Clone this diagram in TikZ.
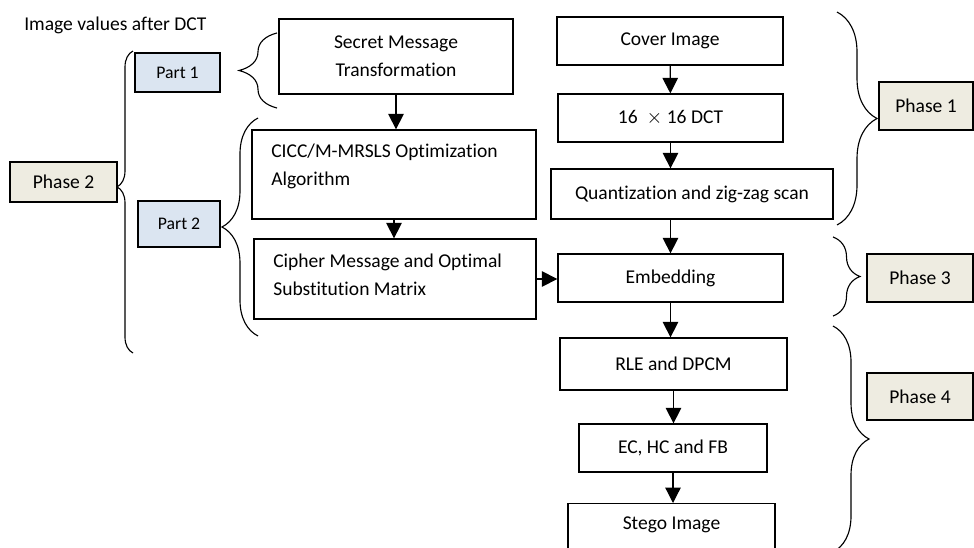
\documentclass[tikz,border=0pt]{standalone}
\usepackage{fontspec}
\setmainfont[Ligatures=NoCommon]{Carlito}
\usetikzlibrary{arrows.meta,decorations.pathreplacing}

\definecolor{phasefill}{RGB}{238,236,225}
\definecolor{partfill}{RGB}{219,229,241}

\tikzset{
  txt/.style={inner sep=0pt, font=\fontsize{13.9}{20}\selectfont},
  blk/.style={txt, draw, line width=0.9pt, align=center},
  phase/.style={blk, fill=phasefill},
  part/.style={blk, fill=partfill, font=\fontsize{12.6}{16}\selectfont},
  arr/.style={line width=0.9pt, -{Triangle[length=11pt,width=11pt]}},
  brc/.style={decorate, line width=0.8pt, decoration={brace, amplitude=#1}},
}

\begin{document}
\begin{tikzpicture}[x=0.025cm, y=-0.025cm]
\useasboundingbox (0,0) rectangle (974,547);

% left part
\node[txt, anchor=west] (caption) at (24,25) {Image values after DCT};
\node[phase, minimum width=2.675cm, minimum height=1cm] (ph2) at (63.5,182) {Phase 2};
\node[part, minimum width=2.125cm, minimum height=0.975cm] (pt1) at (177.5,72.5) {Part 1};
\node[part, minimum width=2.05cm, minimum height=1.15cm] (pt2) at (179,224) {Part 2};

\node[blk, minimum width=5.85cm, minimum height=1.875cm] (secret) at (396,56.5) {Secret Message\\Transformation};
\node[blk, minimum width=7.1cm, minimum height=2.225cm] (cicc) at (394,174.5) {};
\node[txt, anchor=west, align=left] (cicctxt) at (271,166) {CICC/M-MRSLS Optimization\\Algorithm};
\node[blk, minimum width=7.05cm, minimum height=2cm] (cipher) at (395,279) {};
\node[txt, anchor=west, align=left] (ciphertxt) at (273,275) {Cipher Message and Optimal\\Substitution Matrix};

% right part
\node[blk, minimum width=5.65cm, minimum height=1.2cm] (cover) at (670,41) {Cover Image};
\node[blk, minimum width=5.625cm, minimum height=1.2cm] (dct) at (670.5,118) {\rmfamily\fontsize{13.9}{16}\selectfont 16\ \ $\times$ 16 DCT};
\node[blk, minimum width=7.05cm, minimum height=1.25cm] (quant) at (692,194) {Quantization and zig-zag scan};
\node[blk, minimum width=5.625cm, minimum height=1.2cm] (embed) at (670.5,278) {Embedding};
\node[blk, minimum width=5.675cm, minimum height=1.3cm] (rle) at (673.5,364) {RLE and DPCM};
\node[blk, minimum width=4.7cm, minimum height=1.2cm] (ec) at (673,448) {EC, HC and FB};
\node[blk, anchor=north, minimum width=5.175cm, minimum height=1.5cm] (stego) at (671.5,503) {};
\node[txt] (stegotxt) at (671.5,525) {Stego Image};

\node[phase, minimum width=2.35cm, minimum height=1.2cm] (ph1) at (926,106) {Phase 1};
\node[phase, minimum width=2.65cm, minimum height=1.2cm] (ph3) at (920,278) {Phase 3};
\node[phase, minimum width=2.65cm, minimum height=1.175cm] (ph4) at (920,396.5) {Phase 4};

% arrows
\draw[arr] (secret.south) -- (secret.south |- cicc.north);
\draw[arr] (cicc.south) -- (cicc.south |- cipher.north);
\draw[arr] (cipher.east) -- (cipher.east -| embed.west);
\draw[arr] (cover) -- (dct);
\draw[arr] (dct) -- (dct |- quant.north);
\draw[arr] (quant.south -| embed) -- (embed);
\draw[arr] (embed.south) -- (embed.south |- rle.north);
\draw[arr] (rle.south) -- (rle.south |- ec.north);
\draw[arr] (ec.south) -- (ec.south |- stego.north);

% braces
\draw[brc=0.95cm] (277,108) -- (277,33);
\draw[brc=0.9cm] (258,336) -- (258,118);
\draw[brc=0.4cm, decoration={aspect=0.55}] (133,353) -- (133,51);
\draw[brc=1cm] (837,12) -- (837,225);
\draw[brc=0.675cm] (833,237) -- (833,316);
\draw[brc=0.9cm] (833,326) -- (833,552);
\end{tikzpicture}
\end{document}
